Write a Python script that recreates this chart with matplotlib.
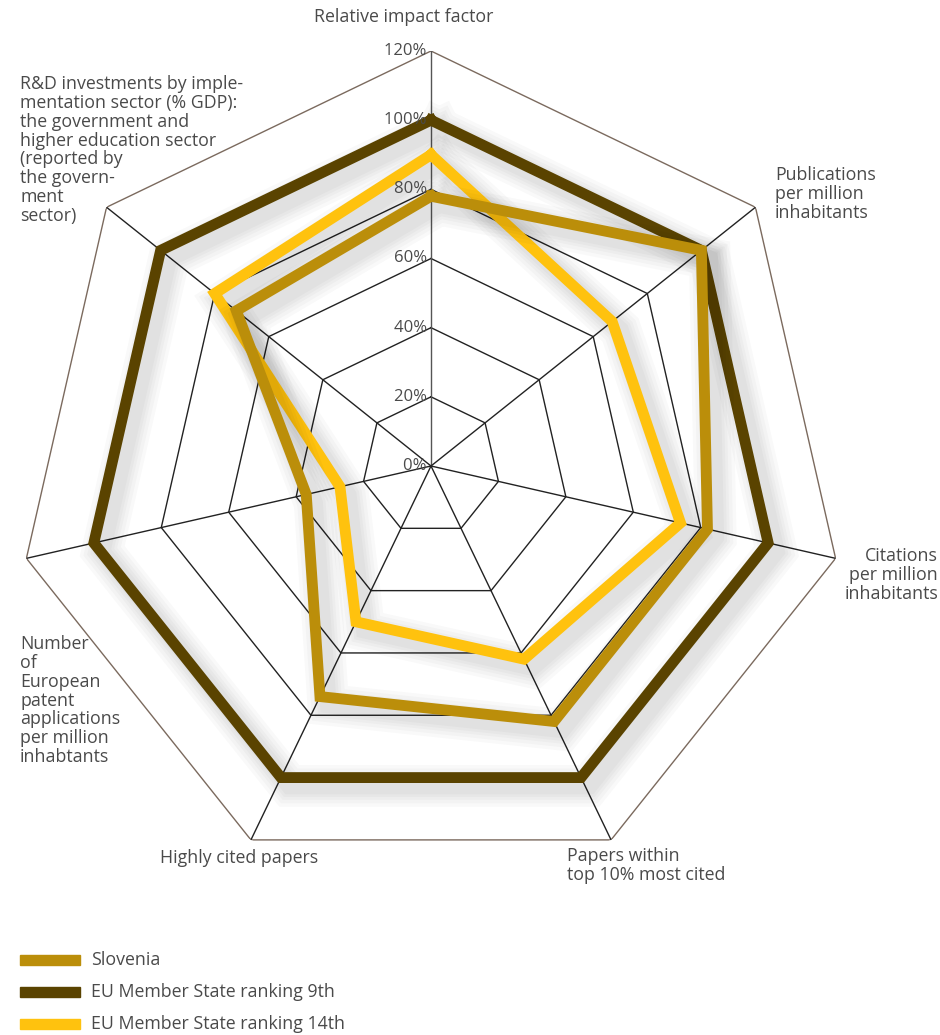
import numpy as np
import matplotlib
matplotlib.use("Agg")
import matplotlib.pyplot as plt
import matplotlib.patheffects as pe
from matplotlib.patches import Rectangle

# ── data ────
categories = [
    "Relative impact factor",
    "Publications\nper million\ninhabitants",
    "Citations\nper million\ninhabitants",
    "Papers within\ntop 10% most cited",
    "Highly cited papers",
    "Number\nof\nEuropean\npatent\napplications\nper million\ninhabtants",
    "R&D investments by imple-\nmentation sector (% GDP):\nthe government and\nhigher education sector\n(reported by\nthe govern-\nment\nsector)",
]
series_names = ["Slovenia", "EU Member State ranking 9th", "EU Member State ranking 14th"]
slovenia = [78, 100, 82, 82, 74, 37, 72]
eu_9th   = [100, 100, 100, 100, 100, 100, 100]
eu_14th  = [90, 67, 74, 62, 50, 27, 80]
grid_levels = [20, 40, 60, 80, 100, 120]
tick_labels = ["0%", "20%", "40%", "60%", "80%", "100%", "120%"]

# ── colours ────
GOLD   = "#BB8E0A"
DARK   = "#5A4300"
YELLOW = "#FFC20E"
OUTER  = "#7B6A5E"
TEXT   = "#4a4a4a"

plt.rcParams["font.family"] = ["Open Sans", "DejaVu Sans"]

W, H = 940, 1035
fig = plt.figure(figsize=(W / 100, H / 100), dpi=100)
fig.patch.set_facecolor("white")


def px(x, y):
    return x / W, 1 - y / H


# centre (431, 466), radius of 120% ring = 415 px
cx, cy, R = 431, 466, 415
ax = fig.add_axes([(cx - R) / W, (H - cy - R) / H, 2 * R / W, 2 * R / H],
                  projection="polar")
ax.set_theta_zero_location("N")
ax.set_theta_direction(-1)
ax.set_ylim(0, 120)
ax.grid(False)
ax.set_xticks([])
ax.set_yticks([])
ax.spines["polar"].set_visible(False)
ax.patch.set_alpha(0)

n = len(categories)
theta = np.arange(n) * 2 * np.pi / n
theta_c = np.append(theta, theta[0])

# grid polygons and spokes
for lev in grid_levels:
    col = OUTER if lev == 120 else "#222222"
    ax.plot(theta_c, [lev] * (n + 1), color=col, lw=1.0, zorder=1)
for t in theta:
    ax.plot([t, t], [0, 120], color="#222222" if t != 0 else "#555555",
            lw=1.0, zorder=1)

# soft drop shadow, built from a few wide translucent strokes
shadow = [pe.SimpleLineShadow(offset=(6, -6), shadow_color="#000000",
                              alpha=0.022, linewidth=w)
          for w in (30, 25, 20, 16, 12)]
shadow.append(pe.Normal())

for vals, col in [(eu_9th, DARK), (eu_14th, YELLOW), (slovenia, GOLD)]:
    v = np.append(vals, vals[0])
    ax.plot(theta_c, v, color=col, lw=7.8, solid_joinstyle="miter",
            zorder=3, path_effects=shadow)

# radial tick labels
for i, lab in enumerate(tick_labels):
    ax.text(0, i * 20, lab + " ", ha="right", va="center", fontsize=12,
            color=TEXT, zorder=5)

# category labels
label_pos = [
    (404, 17, "center", "center"),
    (775, 166, "left", "top"),
    (938, 547, "right", "top"),
    (567, 847, "left", "top"),
    (160, 858, "left", "center"),
    (20, 635, "left", "top"),
    (20, 75, "left", "top"),
]
for cat, (x, y, ha, va) in zip(categories, label_pos):
    fig.text(*px(x, y), cat, ha=ha, va=va, fontsize=12.8, color=TEXT,
             linespacing=1.06, multialignment=ha if ha != "center" else "center")

# legend
for i, (name, col) in enumerate(zip(series_names, [GOLD, DARK, YELLOW])):
    y = 960 + i * 32
    fig.patches.append(Rectangle(px(20, y + 5), 60 / W, 10 / H, color=col,
                                 transform=fig.transFigure, figure=fig))
    fig.text(*px(91, y), name, ha="left", va="center", fontsize=12.8, color=TEXT)

fig.savefig("out.png", dpi=100, facecolor="white")
